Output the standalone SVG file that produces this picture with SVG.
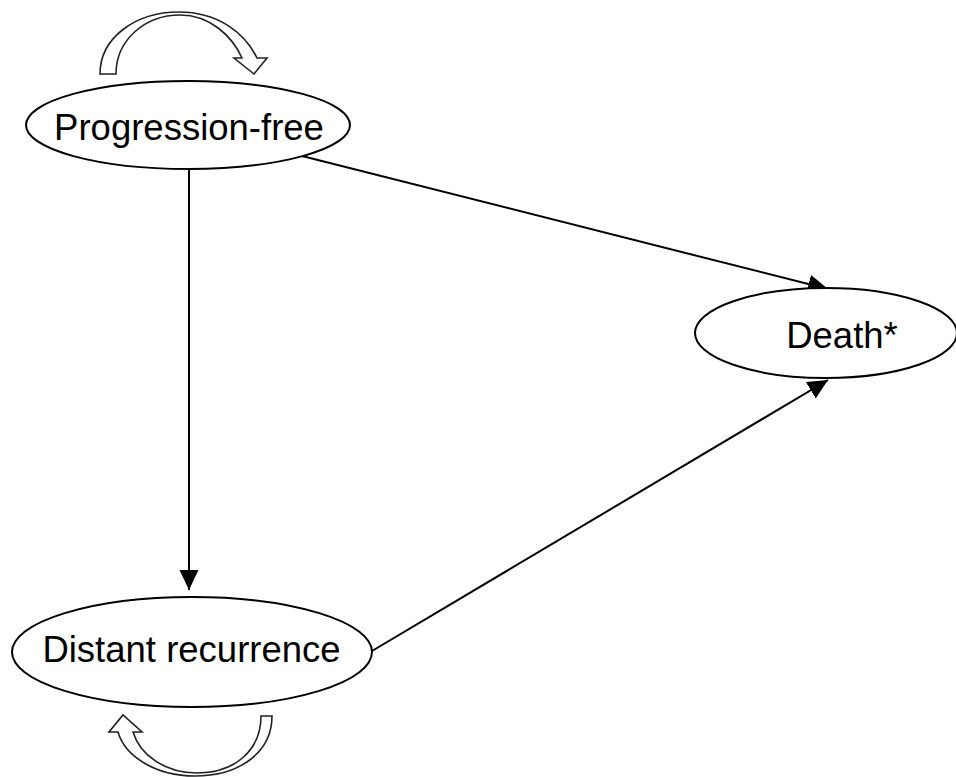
<svg xmlns="http://www.w3.org/2000/svg" width="956" height="777" viewBox="0 0 956 777">
<style>
.node{fill:#fff;stroke:#000;stroke-width:2}
.lbl{font-family:"Liberation Sans",Arial,sans-serif;font-size:36.5px;fill:#000;text-anchor:middle}
.edge{fill:none;stroke:#000;stroke-width:2}
.loop{fill:#fff;stroke:#222;stroke-width:1.6;stroke-linejoin:miter}
</style>
<defs>
<marker id="ah" markerUnits="userSpaceOnUse" markerWidth="22" markerHeight="20" refX="20" refY="9.5" orient="auto">
<path d="M0,0 L20,9.5 L0,19 Z" fill="#000"/>
</marker>
</defs>
<rect width="956" height="777" fill="#fff"/>
<g id="connectors">
<line class="edge" x1="189" y1="170" x2="189" y2="590" marker-end="url(#ah)"/>
<line class="edge" x1="302" y1="156" x2="828" y2="289" marker-end="url(#ah)"/>
<line class="edge" x1="372" y1="651" x2="828" y2="380" marker-end="url(#ah)"/>
<path id="loop-pf" class="loop" d="M100,74 C100,38 135,12 179,12 C218,12 245,33 257,58 L267,58 L254,74 L234,58 L242,58 C232,36 210,15 180,15 C145,15 116,40 116,74 Z"/>
<path id="loop-dr" class="loop" d="M272,716 C272,752 240,776 195,776 C155,776 125,756 118,732 L109,732 L123,715 L142,732 L133,732 C140,755 165,773 197,773 C235,773 261,750 261,716 Z"/>
</g>
<g id="progression-free">
<ellipse class="node" cx="188" cy="125" rx="162" ry="44"/>
<text class="lbl" x="189" y="140">Progression-free</text>
</g>
<g id="distant-recurrence">
<ellipse class="node" cx="192" cy="652" rx="180" ry="55"/>
<text class="lbl" x="191.5" y="662">Distant recurrence</text>
</g>
<g id="death">
<ellipse class="node" cx="826" cy="333" rx="131" ry="45"/>
<text class="lbl" x="842" y="348">Death*</text>
</g>
</svg>
